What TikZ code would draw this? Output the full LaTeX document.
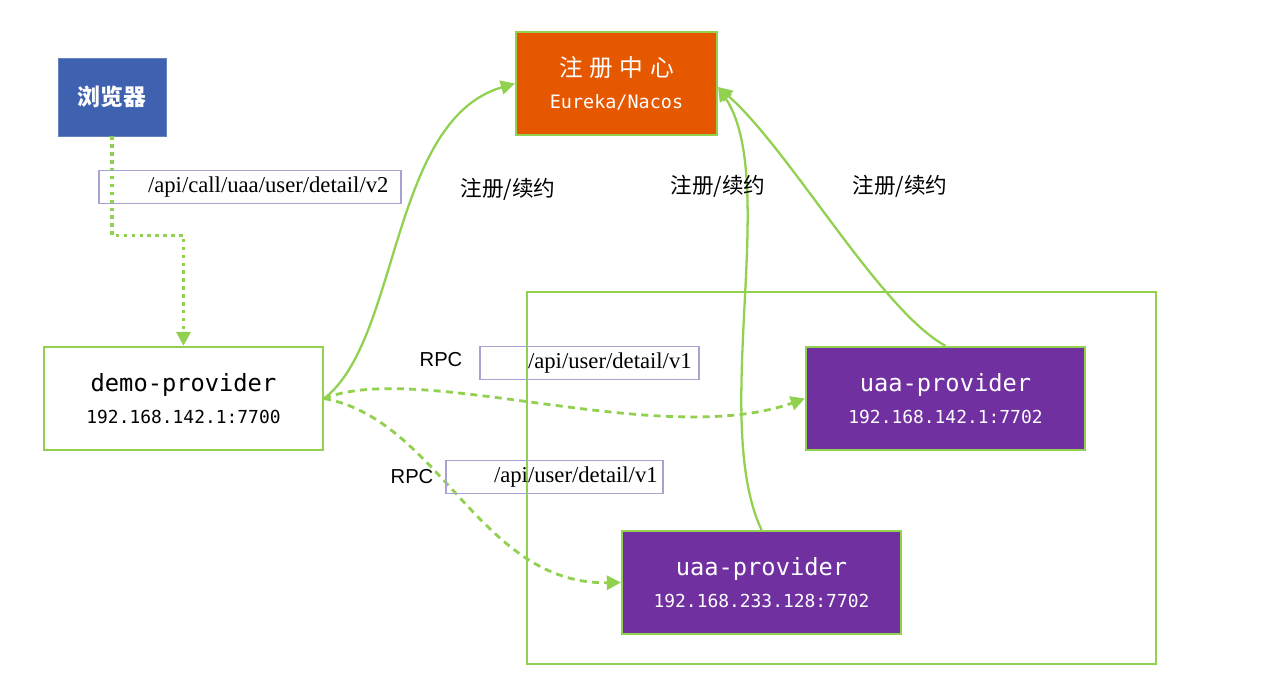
\documentclass[tikz,border=0pt]{standalone}
\usepackage{fontspec}
\setmainfont{Liberation Serif}
\newfontfamily\cjk{Noto Sans CJK SC}
\newfontfamily\cjkwide[LetterSpace=28]{Noto Sans CJK SC}
\newfontfamily\monof{DejaVu Sans Mono}
\newfontfamily\sansf{Liberation Sans}
\usepackage{tikz}
\usetikzlibrary{arrows.meta, positioning, calc}
\usepackage{xcolor}
\definecolor{lgreen}{RGB}{146,208,80}
\definecolor{regorange}{RGB}{229,88,0}
\definecolor{uaapurple}{RGB}{112,48,160}
\definecolor{webblue}{RGB}{63,98,176}
\definecolor{tagline}{RGB}{168,162,208}

\tikzset{
  svcbox/.style={draw=lgreen, line width=1.3pt, minimum width=5.58cm, minimum height=2.06cm, align=center, inner sep=0pt},
  uaabox/.style={svcbox, fill=uaapurple, text=white},
  pathtag/.style={draw=tagline, line width=0.8pt, minimum height=0.66cm, inner sep=0pt, align=left, font=\fontsize{12.9}{15}\selectfont},
  regarrow/.style={draw=lgreen, line width=1.3pt, -{Triangle[length=8pt,width=8pt]}},
  rpcarrow/.style={draw=lgreen, line width=1.6pt, dash pattern=on 4pt off 3pt, -{Triangle[length=8pt,width=8pt]}},
  callarrow/.style={draw=lgreen, line width=1.8pt, dash pattern=on 2pt off 2.5pt, -{Triangle[length=8pt,width=8pt]}},
  renewlbl/.style={font=\cjk\fontsize{12.3}{14}\selectfont}
}

\begin{document}
\begin{tikzpicture}[x=0.02cm, y=-0.02cm]
  \useasboundingbox (0,0) rectangle (1286,691);

  % container of the uaa instances
  \draw[lgreen, line width=1.3pt] (527,292) rectangle (1156,664);

  % nodes
  \node[fill=webblue, draw=webblue!80, minimum width=2.16cm, minimum height=1.56cm, text=white,
        font=\cjk\bfseries\fontsize{13}{15}\selectfont] (browser) at (112,97) {浏览器};
  \node[svcbox, fill=regorange, minimum width=4.02cm, text=white] (registry) at (616.5,83.5)
        {{\cjkwide\fontsize{13.5}{15}\selectfont 注册中心}\\[6pt]{\monof\fontsize{10.5}{12}\selectfont Eureka/Nacos}};
  \node[svcbox, fill=white] (demo) at (183.5,398.5)
        {{\monof\fontsize{13.5}{15}\selectfont demo-provider}\\[6pt]{\monof\fontsize{10.2}{12}\selectfont 192.168.142.1:7700}};
  \node[uaabox] (uaaA) at (945.5,398.5)
        {{\monof\fontsize{13.5}{15}\selectfont uaa-provider}\\[6pt]{\monof\fontsize{10.2}{12}\selectfont 192.168.142.1:7702}};
  \node[uaabox] (uaaB) at (761.5,582.5)
        {{\monof\fontsize{13.5}{15}\selectfont uaa-provider}\\[6pt]{\monof\fontsize{10.2}{12}\selectfont 192.168.233.128:7702}};

  % browser -> demo
  \draw[callarrow] (browser.south) -- ++(0,99) -| (demo.north);
  \node[pathtag, minimum width=6.04cm, text width=6.04cm, fill=none] (tagcall) at (250,187) {\hspace*{0.98cm}/api/call/uaa/user/detail/v2};

  % rpc calls
  \draw[rpcarrow] (demo.east) .. controls (420,360) and (660,450) .. (uaaA.west);
  \draw[rpcarrow] (demo.east) .. controls (440,420) and (480,585) .. (uaaB.west);
  \node[pathtag, minimum width=4.38cm, text width=4.38cm] (tagA) at (589.5,363) {\hspace*{0.96cm}/api/user/detail/v1};
  \node[pathtag, minimum width=4.34cm, text width=4.34cm] (tagB) at (554.5,477) {\hspace*{0.96cm}/api/user/detail/v1};
  \node[font=\sansf\fontsize{11.5}{13}\selectfont] (rpcA) at (441,360) {RPC};
  \node[font=\sansf\fontsize{11.5}{13}\selectfont] (rpcB) at (412,477) {RPC};

  % register / renew
  \draw[regarrow] (demo.east) .. controls (400,340) and (390,120) .. (registry.west);
  \draw[regarrow] (uaaB.north) .. controls (710,420) and (780,180) .. ([yshift=-2pt]registry.east);
  \draw[regarrow] (uaaA.north) .. controls (880,310) and (790,150) .. ([yshift=-2pt]registry.east);
  \node[renewlbl] (renew1) at (508,189) {注册/续约};
  \node[renewlbl] (renew2) at (718,186) {注册/续约};
  \node[renewlbl] (renew3) at (900,186) {注册/续约};
\end{tikzpicture}
\end{document}
